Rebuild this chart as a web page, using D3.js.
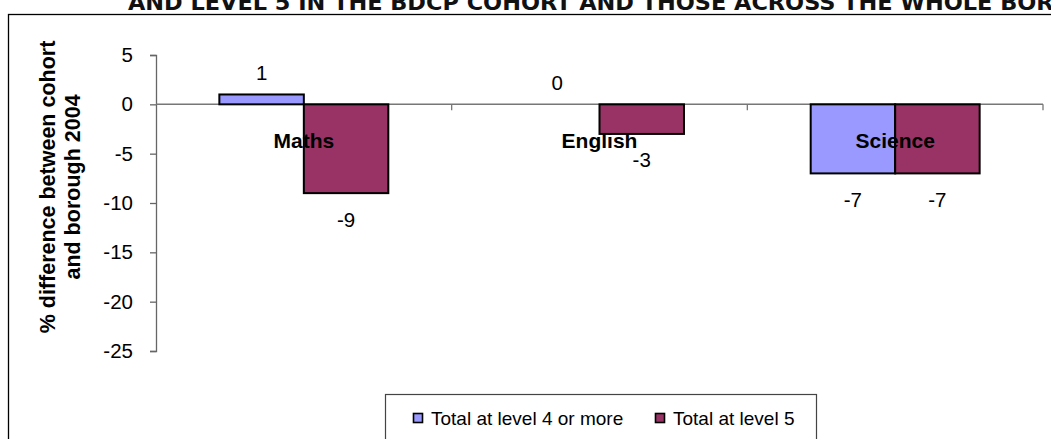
<!DOCTYPE html>
<html>
<head>
<meta charset="utf-8">
<script src="https://cdn.jsdelivr.net/npm/d3@7"></script>
<style>
    html, body { margin: 0; padding: 0; background: #fff; overflow: hidden; }
    svg { display: block; }
</style>
</head>
<body>
<div id="chart"></div>
<script>

const categories = ['Maths', 'English', 'Science'];
const seriesNames = ['Total at level 4 or more', 'Total at level 5'];
const level4Values = [1, 0, -7];
const level5Values = [-9, -3, -7];
const yTicks = [5, 0, -5, -10, -15, -20, -25];
const seriesColors = ['#9999FF', '#993366'];
const titleText = 'AND LEVEL 5 IN THE BDCP COHORT AND THOSE ACROSS THE WHOLE BOROUGH';
const yTitleLines = ['% difference between cohort', 'and borough 2004'];

class DiffBarChart {

    constructor(container) {
        this._container = container;
        this._width = 1051;
        this._height = 439;
        this._plot = { left: 156, right: 1043, top: 55, bottom: 351 };
        this._font = '"Liberation Sans", Arial, sans-serif';
        this._init();
    }

    _init() {
        this._svg = d3.select(this._container)
            .append('svg')
            .attr('width', this._width)
            .attr('height', this._height);

        this._x = d3.scaleBand()
            .domain(categories)
            .range([this._plot.left, this._plot.right])
            .padding(0);

        // excel style gap width of 150%
        this._xs = d3.scaleBand()
            .domain(seriesNames)
            .range([0, this._x.bandwidth()])
            .paddingInner(0)
            .paddingOuter(0.75);

        this._y = d3.scaleLinear()
            .domain([-25, 5])
            .range([this._plot.bottom, this._plot.top]);

        this._drawFrame();
        this._drawAxes();
        this._drawBars();
        this._drawLabels();
        this._drawLegend();
    }

    _drawFrame() {
        this._svg.append('text')
            .attr('x', 128)
            .attr('y', 9.5)
            .attr('textLength', 1000)
            .attr('lengthAdjust', 'spacingAndGlyphs')
            .attr('font-family', '"DejaVu Sans Condensed", "DejaVu Sans", sans-serif')
            .attr('font-weight', 'bold')
            .attr('font-size', '22px')
            .attr('fill', '#111')
            .text(titleText);

        this._svg.append('rect')
            .attr('x', 8.5)
            .attr('y', 14.5)
            .attr('width', 1100)
            .attr('height', 500)
            .attr('fill', 'none')
            .attr('stroke', '#000')
            .attr('stroke-width', 1.3);
    }

    _drawAxes() {
        const y0 = this._y(0);

        const yAxis = d3.axisLeft(this._y)
            .tickValues(yTicks)
            .tickSize(6)
            .tickPadding(17)
            .tickFormat(d => String(d));

        const gy = this._svg.append('g')
            .attr('transform', `translate(${this._plot.left},0)`)
            .call(yAxis);
        gy.select('.domain').attr('stroke', '#666').attr('stroke-width', 1.3);
        gy.selectAll('.tick line').attr('stroke', '#666').attr('stroke-width', 1.3);
        gy.selectAll('.tick text')
            .attr('font-family', this._font)
            .attr('font-size', '20.5px')
            .attr('fill', '#000');

        // category axis sits on the zero line, ticks at band edges
        const edges = categories.map(c => this._x(c) + this._x.bandwidth());
        const gx = this._svg.append('g');
        gx.append('line')
            .attr('x1', this._plot.left)
            .attr('x2', this._plot.right)
            .attr('y1', y0)
            .attr('y2', y0)
            .attr('stroke', '#777')
            .attr('stroke-width', 1.5);
        gx.selectAll('line.xtick')
            .data(edges)
            .enter()
            .append('line')
            .attr('class', 'xtick')
            .attr('x1', d => d)
            .attr('x2', d => d)
            .attr('y1', y0)
            .attr('y2', y0 + 6)
            .attr('stroke', '#777')
            .attr('stroke-width', 1.3);

        const gt = this._svg.append('text')
            .attr('transform', 'rotate(-90)')
            .attr('text-anchor', 'middle')
            .attr('font-family', this._font)
            .attr('font-weight', 'bold')
            .attr('font-size', '21.5px')
            .attr('fill', '#000');
        yTitleLines.forEach((t, i) => {
            gt.append('tspan')
                .attr('x', -187)
                .attr('y', 55 + i * 25)
                .text(t);
        });
    }

    _drawBars() {
        const rows = categories.map((c, i) => ({
            cat: c,
            vals: [level4Values[i], level5Values[i]]
        }));
        this._rows = rows;

        const g = this._svg.append('g');
        rows.forEach(r => {
            r.vals.forEach((v, s) => {
                if (v === 0) return;
                g.append('rect')
                    .attr('x', this._x(r.cat) + this._xs(seriesNames[s]))
                    .attr('y', this._y(Math.max(0, v)))
                    .attr('width', this._xs.bandwidth())
                    .attr('height', Math.abs(this._y(v) - this._y(0)))
                    .attr('fill', seriesColors[s])
                    .attr('stroke', '#000')
                    .attr('stroke-width', 2);
            });
        });
    }

    _drawLabels() {
        const g = this._svg.append('g')
            .attr('font-family', this._font)
            .attr('fill', '#000')
            .attr('text-anchor', 'middle');

        this._rows.forEach(r => {
            r.vals.forEach((v, s) => {
                const cx = this._x(r.cat) + this._xs(seriesNames[s]) + this._xs.bandwidth() / 2;
                const cy = v >= 0 ? this._y(v) - 22 : this._y(v) + 26;
                g.append('text')
                    .attr('x', cx)
                    .attr('y', cy)
                    .attr('dy', '0.36em')
                    .attr('font-size', '20.5px')
                    .text(v);
            });
        });

        g.selectAll('text.cat')
            .data(categories)
            .enter()
            .append('text')
            .attr('class', 'cat')
            .attr('x', d => this._x(d) + this._x.bandwidth() / 2)
            .attr('y', this._y(0) + 36)
            .attr('dy', '0.36em')
            .attr('font-weight', 'bold')
            .attr('font-size', '21px')
            .text(d => d);
    }

    _drawLegend() {
        const g = this._svg.append('g');
        g.append('rect')
            .attr('x', 385.5)
            .attr('y', 394.5)
            .attr('width', 431)
            .attr('height', 60)
            .attr('fill', '#fff')
            .attr('stroke', '#444')
            .attr('stroke-width', 1.2);

        const itemX = [413, 655];
        seriesNames.forEach((name, i) => {
            g.append('rect')
                .attr('x', itemX[i] + 0.5)
                .attr('y', 413.5)
                .attr('width', 9)
                .attr('height', 9)
                .attr('fill', seriesColors[i])
                .attr('stroke', '#000')
                .attr('stroke-width', 1.6);
            g.append('text')
                .attr('x', itemX[i] + 18)
                .attr('y', 418.5)
                .attr('dy', '0.36em')
                .attr('font-family', this._font)
                .attr('font-size', '19px')
                .attr('fill', '#000')
                .text(name);
        });
    }
}

new DiffBarChart(document.getElementById('chart'));
</script>
</body>
</html>
